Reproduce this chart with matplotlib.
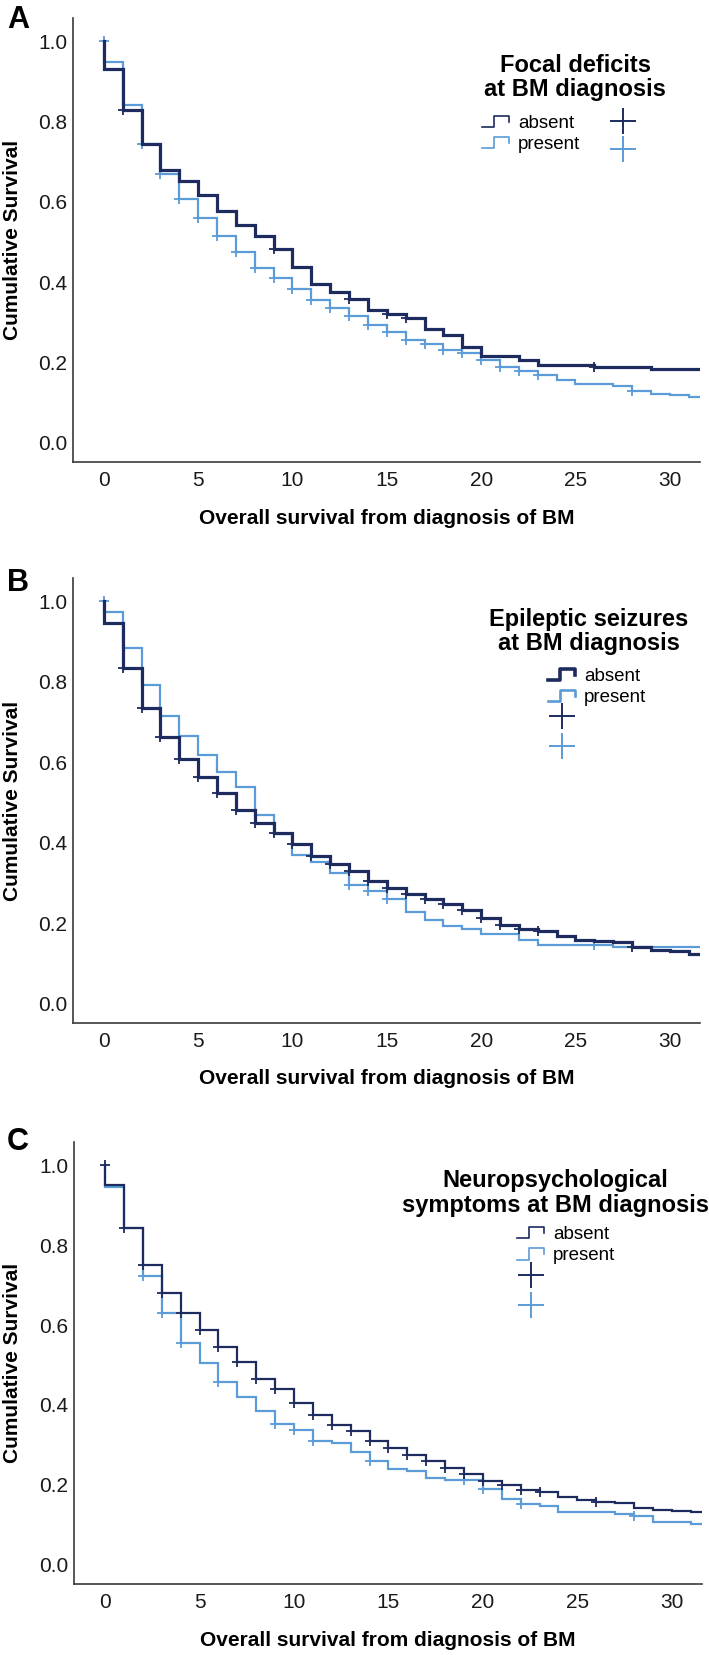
import numpy as np
import matplotlib
matplotlib.use("Agg")
import matplotlib.pyplot as plt
from matplotlib.lines import Line2D
from matplotlib.legend_handler import HandlerBase

# months since BM diagnosis (step at start of each month)
months = np.arange(0, 32)

# panel A: focal deficits
a_absent = [0.931, 0.828, 0.743, 0.680, 0.651, 0.618, 0.577, 0.543, 0.516, 0.483,
            0.438, 0.396, 0.376, 0.357, 0.330, 0.320, 0.310, 0.283, 0.268, 0.239,
            0.217, 0.217, 0.206, 0.194, 0.194, 0.194, 0.188, 0.188, 0.188, 0.183,
            0.183, 0.183]
a_present = [0.949, 0.842, 0.743, 0.669, 0.607, 0.560, 0.516, 0.476, 0.436, 0.410,
             0.384, 0.355, 0.336, 0.316, 0.294, 0.277, 0.256, 0.246, 0.231, 0.223,
             0.205, 0.188, 0.178, 0.169, 0.157, 0.147, 0.147, 0.142, 0.130, 0.121,
             0.118, 0.115]
a_cens_absent = [1, 9, 13, 15, 16, 26]
a_cens_present = [0, 2, 3, 4, 5, 6, 7, 8, 9, 10, 11, 12, 13, 14, 15, 16, 17, 18,
                  19, 20, 21, 22, 23, 28]

# panel B: epileptic seizures
b_absent = [0.945, 0.835, 0.736, 0.663, 0.607, 0.564, 0.523, 0.481, 0.450, 0.424,
            0.397, 0.366, 0.347, 0.330, 0.304, 0.287, 0.273, 0.260, 0.247, 0.233,
            0.213, 0.196, 0.186, 0.181, 0.167, 0.159, 0.156, 0.153, 0.141, 0.134,
            0.130, 0.124]
b_present = [0.973, 0.884, 0.793, 0.715, 0.666, 0.618, 0.575, 0.538, 0.469, 0.422,
             0.370, 0.351, 0.324, 0.294, 0.281, 0.260, 0.229, 0.208, 0.194, 0.186,
             0.174, 0.174, 0.159, 0.146, 0.146, 0.146, 0.146, 0.140, 0.140, 0.140,
             0.140, 0.140]
b_cens_absent = [1, 2, 3, 4, 5, 6, 7, 8, 9, 10, 11, 12, 13, 14, 15, 16, 17, 18,
                 19, 20, 21, 22, 23, 28]
b_cens_present = [0, 13, 14, 15, 26]

# panel C: neuropsychological symptoms
c_absent = [0.950, 0.842, 0.749, 0.680, 0.630, 0.587, 0.544, 0.507, 0.466, 0.440,
            0.406, 0.376, 0.351, 0.334, 0.309, 0.293, 0.274, 0.259, 0.243, 0.228,
            0.210, 0.199, 0.187, 0.181, 0.170, 0.162, 0.158, 0.154, 0.142, 0.138,
            0.135, 0.131]
c_present = [0.945, 0.844, 0.722, 0.631, 0.554, 0.506, 0.457, 0.419, 0.384, 0.353,
             0.337, 0.309, 0.305, 0.282, 0.259, 0.240, 0.235, 0.216, 0.211, 0.211,
             0.189, 0.164, 0.153, 0.148, 0.133, 0.133, 0.133, 0.127, 0.121, 0.106,
             0.106, 0.101]
c_cens_absent = [0, 1, 2, 3, 4, 5, 6, 7, 8, 9, 10, 11, 12, 13, 14, 15, 16, 17,
                 18, 19, 20, 21, 22, 23, 26]
c_cens_present = [2, 3, 4, 6, 9, 10, 11, 14, 19, 20, 22, 28]

titles = ["Focal deficits\nat BM diagnosis",
          "Epileptic seizures\nat BM diagnosis",
          "Neuropsychological\nsymptoms at BM diagnosis"]
letters = ["A", "B", "C"]
group_labels = ["absent", "present"]

DARK = "#1d2b5e"
LIGHT = "#5b9bd7"
plt.rcParams['font.family'] = ["Liberation Sans", "DejaVu Sans"]


class StepHandler(HandlerBase):
    """little step icon like the one in the SPSS legend"""
    def create_artists(self, legend, orig_handle, xdescent, ydescent,
                       width, height, fontsize, trans):
        xs = np.array([0, 0.45, 0.45, 1.0, 1.0]) * width - xdescent
        ys = np.array([0.05, 0.05, 0.9, 0.9, 0.45]) * height - ydescent
        ln = Line2D(xs, ys, color=orig_handle.get_color(),
                    lw=orig_handle.get_linewidth())
        ln.set_transform(trans)
        return [ln]


def draw_panel(ax, absent, present, cens_abs, cens_pres, lw_abs, lw_pres):
    x_end = 31.6
    for surv, cens, col, lw in [(present, cens_pres, LIGHT, lw_pres),
                                (absent, cens_abs, DARK, lw_abs)]:
        xs = np.r_[0, months, x_end]
        ys = np.r_[1.0, surv, surv[-1]]
        ax.step(xs, ys, where='post', color=col, lw=lw, solid_joinstyle='miter')
        cy = [1.0 if t == 0 else surv[t] for t in cens]
        ax.plot(cens, cy, ls='none', marker='+', ms=7, mew=1.3, color=col)


fig = plt.figure(figsize=(7.09, 16.55), dpi=100)

# axes boxes in pixels (left, top, right, bottom)
boxes = [(72.7, 18, 700, 462), (72.7, 578, 700, 1023), (74, 1142, 702, 1584)]
W, H = 709, 1655
panels = [(a_absent, a_present, a_cens_absent, a_cens_present, 2.3, 1.6),
          (b_absent, b_present, b_cens_absent, b_cens_present, 2.3, 1.6),
          (c_absent, c_present, c_cens_absent, c_cens_present, 1.6, 1.6)]
title_pos = [(575, 77.5), (589, 631.5), (555, 1193)]
leg_pos = [(482, 108.6), (548, 667.5), (517, 1226)]
leg_lw = [(1.2, 1.2), (2.6, 1.9), (1.2, 1.2)]

for i, (l, t, r, b) in enumerate(boxes):
    ax = fig.add_axes([l / W, 1 - b / H, (r - l) / W, (b - t) / H])
    absent, present, ca, cp, lwa, lwp = panels[i]
    draw_panel(ax, absent, present, ca, cp, lwa, lwp)
    ax.set_xlim(-1.65, 31.6)
    ax.set_ylim(-0.048, 1.058)
    ax.set_xticks([0, 5, 10, 15, 20, 25, 30])
    ax.set_yticks([0.0, 0.2, 0.4, 0.6, 0.8, 1.0])
    ax.set_yticklabels(["0.0", "0.2", "0.4", "0.6", "0.8", "1.0"])
    for s in ['top', 'right']:
        ax.spines[s].set_visible(False)
    for s in ['left', 'bottom']:
        ax.spines[s].set_color('#3a3a3a')
        ax.spines[s].set_linewidth(1.2)
    ax.tick_params(length=0, labelsize=15, labelcolor='#1a1a1a')
    ax.tick_params(axis='x', pad=6.5)
    ax.tick_params(axis='y', pad=4)
    ax.set_xlabel("Overall survival from diagnosis of BM", fontsize=15,
                  fontweight='bold')
    ax.xaxis.label.set_va('center')
    ax.xaxis.set_label_coords(0.5, -56 / (b - t))
    ax.set_ylabel("Cumulative Survival", fontsize=15, fontweight='bold')
    ax.yaxis.label.set_va('center')
    ax.yaxis.set_label_coords((12.5 - l) / (r - l), 0.5)

    # legend title as its own text, entries as a frameless legend below it
    tx, ty = title_pos[i]
    fig.text(tx / W, 1 - ty / H, titles[i], fontsize=17, fontweight='bold',
             ha='center', va='center', linespacing=1.1, multialignment='center')

    h_abs = Line2D([], [], color=DARK, lw=leg_lw[i][0])
    h_pres = Line2D([], [], color=LIGHT, lw=leg_lw[i][1])
    c_abs = Line2D([], [], color=DARK, ls='none', marker='+', ms=19, mew=1.4)
    c_pres = Line2D([], [], color=LIGHT, ls='none', marker='+', ms=19, mew=1.4)
    handles = [h_abs, h_pres, c_abs, c_pres]
    labels = group_labels + ["", ""]
    ncol = 2 if i == 0 else 1
    lx, ly = leg_pos[i]
    leg = ax.legend(handles, labels, ncol=ncol,
                    loc='upper left', bbox_to_anchor=(lx / W, 1 - ly / H),
                    bbox_transform=fig.transFigure, frameon=False,
                    handler_map={h_abs: StepHandler(), h_pres: StepHandler()},
                    prop={'size': 13.5}, borderpad=0, borderaxespad=0,
                    handlelength=1.44, handletextpad=0.48, labelspacing=0.21,
                    columnspacing=1.57)
    # the cross rows sit a bit further apart in the original
    txt = leg.get_texts()
    if i == 0:
        txt[2].set_fontsize(18)
        txt[3].set_fontsize(18)
    else:
        txt[3].set_fontsize(21)

    fig.text(18 / W, 1 - [20, 583, 1142][i] / H, letters[i], fontsize=22,
             fontweight='bold', ha='center', va='center')

fig.savefig("out.png", dpi=100)
